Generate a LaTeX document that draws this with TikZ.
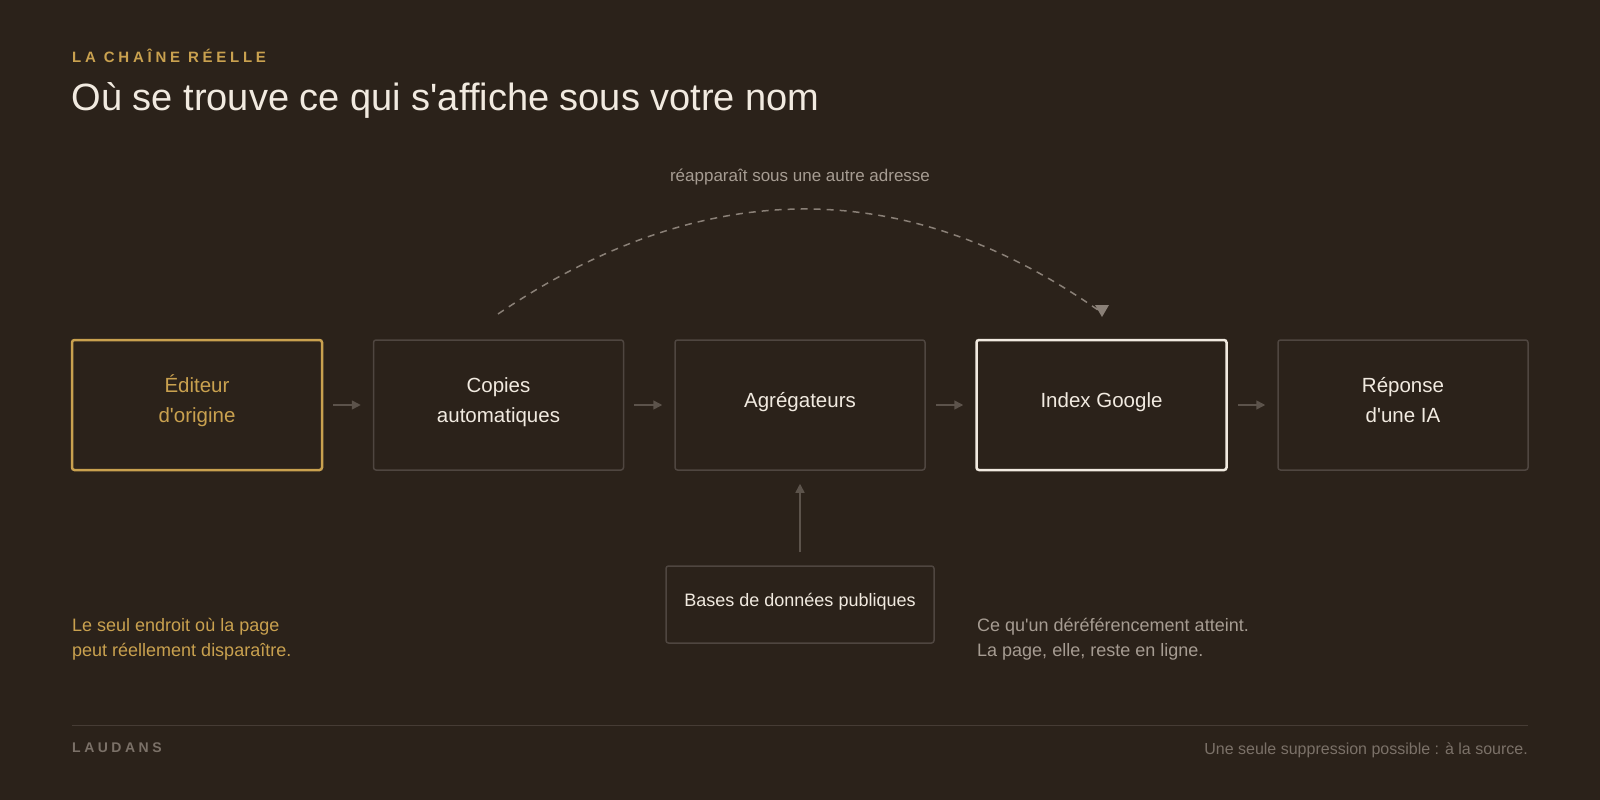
\documentclass[tikz,border=0pt]{standalone}
\usepackage{fontspec}
\setmainfont{Liberation Sans}[Ligatures=TeXOff]
\newfontfamily\kickerfont{Liberation Sans}[Ligatures=TeXOff,LetterSpace=25]
\newfontfamily\brandfont{Liberation Sans}[Ligatures=TeXOff,LetterSpace=25]
\usetikzlibrary{arrows.meta,calc}
\definecolor{bg}{HTML}{2B221A}
\definecolor{gold}{HTML}{C9A14F}
\definecolor{cream}{HTML}{F1EAE0}
\definecolor{boxgray}{HTML}{4F4640}
\definecolor{arrowgray}{HTML}{5C534B}
\definecolor{dashgray}{HTML}{8A8077}
\definecolor{annot}{HTML}{A69C92}
\definecolor{foottext}{HTML}{7B7168}
\definecolor{footline}{HTML}{463C35}
\begin{document}
\begin{tikzpicture}[x=1pt,y=-1pt,
  stage/.style={draw=boxgray, line width=1.5pt, rounded corners=2.5pt,
    minimum width=250pt, minimum height=130pt, inner sep=0pt},
  lbl/.style={anchor=base, inner sep=0pt, text=cream,
    font=\fontsize{20.5}{24}\selectfont},
  note/.style={anchor=base west, inner sep=0pt,
    font=\fontsize{18}{22}\selectfont},
  flow/.style={draw=arrowgray, line width=1.5pt,
    -{Triangle[length=9pt,width=9pt]}},
  loopback/.style={draw=dashgray, line width=1.5pt, dash pattern=on 7pt off 6pt}
]
\useasboundingbox[fill=bg] (0,0) rectangle (1600,800);

% header
\node[anchor=base west, inner sep=0pt, text=gold,
  font=\kickerfont\bfseries\fontsize{15}{18}\selectfont] (kicker) at (72,62.3) {LA CHAÎNE RÉELLE};
\node[anchor=base west, inner sep=0pt, text=cream,
  font=\fontsize{38}{44}\selectfont] (title) at (71.5,110) {Où se trouve ce qui s'affiche sous votre nom};

% stages
\node[stage, draw=gold, line width=2.5pt] (b1) at (197,405) {};
\node[stage] (b2) at (498.5,405) {};
\node[stage] (b3) at (800,405) {};
\node[stage, draw=cream, line width=2.5pt] (b4) at (1101.5,405) {};
\node[stage] (b5) at (1403,405) {};
\node[stage, minimum width=268pt, minimum height=77pt] (b6) at (800,604.5) {};

% stage texts
\node[lbl, text=gold] (t1a) at (197,392) {Éditeur};
\node[lbl, text=gold] (t1b) at (197,422) {d'origine};
\node[lbl] (t2a) at (498.5,392) {Copies};
\node[lbl] (t2b) at (498.5,422) {automatiques};
\node[lbl] (t3) at (800,407) {Agrégateurs};
\node[lbl] (t4) at (1101.5,407) {Index Google};
\node[lbl] (t5a) at (1403,392) {Réponse};
\node[lbl] (t5b) at (1403,422) {d'une IA};
\node[lbl, font=\fontsize{18}{22}\selectfont] (t6) at (800,606) {Bases de données publiques};

% flow arrows
\draw[flow, shorten <=10pt, shorten >=12pt] (b1) -- (b2);
\draw[flow, shorten <=10pt, shorten >=12pt] (b2) -- (b3);
\draw[flow, shorten <=10pt, shorten >=12pt] (b3) -- (b4);
\draw[flow, shorten <=10pt, shorten >=12pt] (b4) -- (b5);
\draw[flow, shorten <=13pt, shorten >=13pt] (b6) -- (b3);

% dashed loop-back arc
\coordinate (arcS) at (498,314);
\coordinate (arcE) at (1098,310);
\coordinate (arcT) at (1102,311);
\draw[loopback] (arcS) .. controls (703.3,175.3) and (903.3,174) .. (arcE);
\fill[dashgray] ($(arcT)+(-7,-6)$) -- ($(arcT)+(7,-6)$) -- ($(arcT)+(0,6)$) -- cycle;
\node[anchor=base, inner sep=0pt, text=annot,
  font=\fontsize{17}{20}\selectfont] (ann) at (800,181) {réapparaît sous une autre adresse};

% notes
\node[note, text=gold] (n1a) at (72,631.5) {Le seul endroit où la page};
\node[note, text=gold] (n1b) at (72,656.5) {peut réellement disparaître.};
\node[note, text=annot] (n2a) at (977,631.5) {Ce qu'un déréférencement atteint.};
\node[note, text=annot] (n2b) at (977,656.5) {La page, elle, reste en ligne.};

% footer
\coordinate (fl) at (72,725.5);
\coordinate (fr) at (1528,725.5);
\draw[footline, line width=1.5pt] (fl) -- (fr);
\node[anchor=base west, inner sep=0pt, text=foottext,
  font=\brandfont\bfseries\fontsize{14}{16}\selectfont] (brand) at (72,752.3) {LAUDANS};
\node[anchor=base east, inner sep=0pt, text=foottext,
  font=\fontsize{16}{19}\selectfont] (tag) at (1528,754) {Une seule suppression possible : à la source.};
\end{tikzpicture}
\end{document}
